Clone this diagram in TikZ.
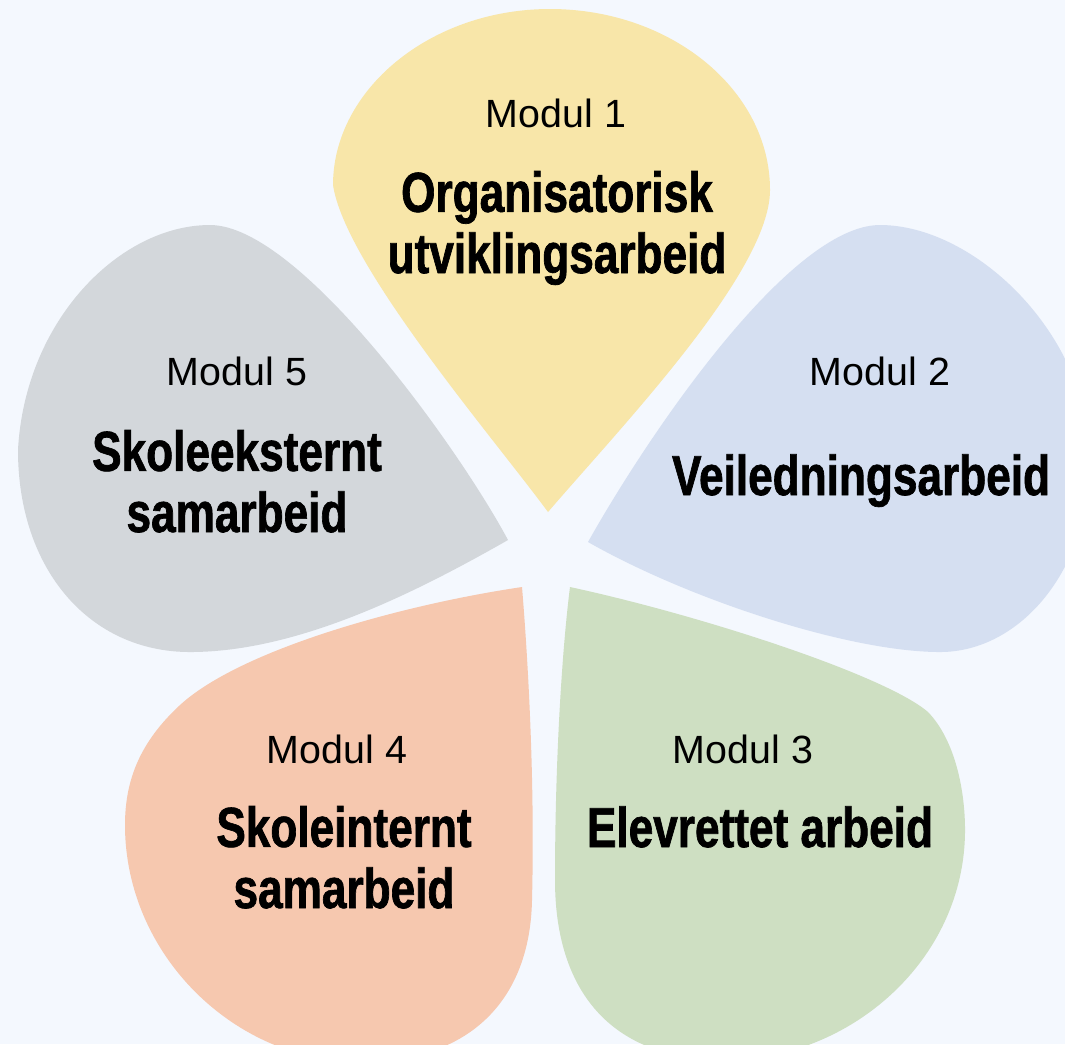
\documentclass[tikz,border=0pt]{standalone}
\usepackage{fontspec}
\setmainfont{Liberation Sans}
\newfontfamily\titlefont[FakeStretch=0.785,FakeBold=1.2]{Liberation Sans}
\usepackage{xcolor}
\usepackage{tikz}
\usetikzlibrary{positioning}

\definecolor{bgblue}{HTML}{F4F8FE}
\definecolor{petyellow}{HTML}{F8E6A9}
\definecolor{petblue}{HTML}{D5DFF1}
\definecolor{petgreen}{HTML}{CEDFC2}
\definecolor{petorange}{HTML}{F6C8AF}
\definecolor{petgrey}{HTML}{D3D7DB}

\begin{document}
\begin{tikzpicture}[
    x=0.01cm, y=-0.01cm,
    petal/.style={draw=none},
    modul/.style={anchor=base, font=\fontsize{11.2}{13}\selectfont},
    title/.style={anchor=base, align=center, inner sep=0pt,
                  font=\titlefont\bfseries\fontsize{16}{17.4}\selectfont}
]

% --- Canvas ---
\fill[bgblue] (0,0) rectangle (1065,1044);
\useasboundingbox (0,0) rectangle (1065,1044);
\clip (0,0) rectangle (1065,1044);

% --- Petals ---
% Modul 1 (top)
\fill[petal, petyellow] (548,512) .. controls (620,428) and (770,272) .. (770,190)
    .. controls (770,90) and (671,9) .. (550,9)
    .. controls (430,9) and (333,90) .. (333,185)
    .. controls (345,265) and (492,436) .. (548,512) -- cycle;
% Modul 2 (right)
\fill[petal, petblue] (588,542) .. controls (648,435) and (790,225) .. (880,225)
    .. controls (975,225) and (1090,335) .. (1090,460)
    .. controls (1090,570) and (1020,652) .. (940,652)
    .. controls (850,652) and (690,600) .. (588,542) -- cycle;
% Modul 3 (bottom right)
\fill[petal, petgreen] (570,587) .. controls (700,615) and (885,675) .. (928,712)
    .. controls (955,740) and (965,790) .. (965,830)
    .. controls (965,960) and (850,1060) .. (725,1060)
    .. controls (610,1060) and (555,990) .. (555,880)
    .. controls (555,760) and (562,650) .. (570,587) -- cycle;
% Modul 4 (bottom left)
\fill[petal, petorange] (522,587) .. controls (400,605) and (240,650) .. (180,705)
    .. controls (140,742) and (125,780) .. (125,825)
    .. controls (125,955) and (235,1062) .. (360,1062)
    .. controls (470,1062) and (530,1000) .. (532,900)
    .. controls (535,780) and (528,660) .. (522,587) -- cycle;
% Modul 5 (left)
\fill[petal, petgrey] (508,540) .. controls (460,450) and (300,225) .. (210,225)
    .. controls (120,225) and (25,320) .. (18,450)
    .. controls (18,570) and (90,652) .. (190,652)
    .. controls (300,652) and (420,590) .. (508,540) -- cycle;

% --- Labels (title nodes sit on their last baseline) ---
\node[modul] (m1) at (556,127) {Modul 1};
\node[title] (t1) at (557,273) {Organisatorisk\\utviklingsarbeid};

\node[modul] (m2) at (880,385) {Modul 2};
\node[title] (t2) at (861,495) {Veiledningsarbeid};

\node[modul] (m3) at (743,763) {Modul 3};
\node[title] (t3) at (760,847) {Elevrettet arbeid};

\node[modul] (m4) at (337,763) {Modul 4};
\node[title] (t4) at (344,908) {Skoleinternt\\samarbeid};

\node[modul] (m5) at (237,385) {Modul 5};
\node[title] (t5) at (237,532) {Skoleeksternt\\samarbeid};

\end{tikzpicture}
\end{document}
